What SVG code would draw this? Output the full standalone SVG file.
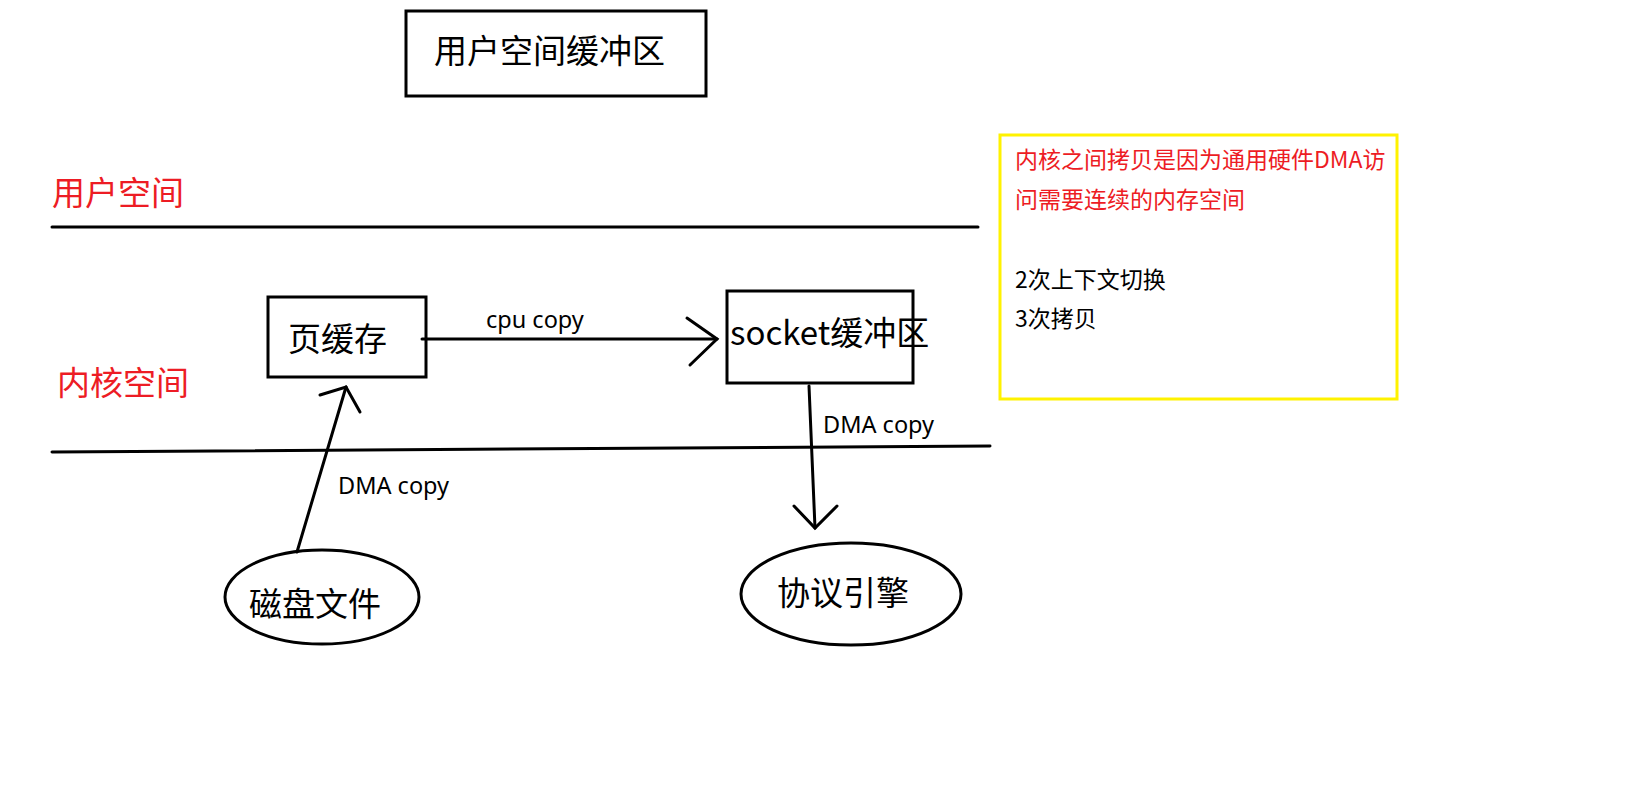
<svg xmlns="http://www.w3.org/2000/svg" width="1645" height="789" viewBox="0 0 1645 789">
<style>
.t{font-family:"Microsoft YaHei","Noto Sans CJK SC","Noto Sans",sans-serif;fill:#000}
.lat{font-family:"Noto Sans","Noto Sans CJK SC",sans-serif;font-size:23.5px;fill:#000}
.big{font-size:33px}
.sm{font-size:23px}
.red{fill:#ed1c24}
.box{fill:#fff;stroke:#000;stroke-width:3}
.ln{fill:none;stroke:#000;stroke-width:3;stroke-linecap:round}
</style>
<rect width="1645" height="789" fill="#fff"/>
<g id="labels">
<text class="t big red" x="52" y="205">用户空间</text>
<text class="t big red" x="57" y="395">内核空间</text>
<line class="ln" x1="52" y1="227" x2="978" y2="227"/>
<line class="ln" x1="52" y1="452" x2="990" y2="446"/>
</g>
<g id="user-buffer">
<rect class="box" x="406" y="11" width="300" height="85"/>
<text class="t big" x="434" y="63">用户空间缓冲区</text>
</g>
<g id="page-cache">
<rect class="box" x="268" y="297" width="158" height="80"/>
<text class="t big" x="288" y="351">页缓存</text>
</g>
<g id="socket-buffer">
<rect class="box" x="727" y="291" width="186" height="92"/>
<text class="t big" x="730" y="345">socket缓冲区</text>
</g>
<g id="disk-file">
<ellipse class="box" cx="322" cy="597" rx="97" ry="47"/>
<text class="t big" x="249" y="616">磁盘文件</text>
</g>
<g id="protocol-engine">
<ellipse class="box" cx="851" cy="594" rx="110" ry="51"/>
<text class="t big" x="777" y="605">协议引擎</text>
</g>
<g id="note">
<rect x="1000" y="135" width="397" height="264" fill="#fff" stroke="#fff200" stroke-width="3"/>
<text class="t sm red" x="1015" y="168">内核之间拷贝是因为通用硬件DMA访</text>
<text class="t sm red" x="1015" y="208">问需要连续的内存空间</text>
<text class="t sm" x="1015" y="288">2次上下文切换</text>
<text class="t sm" x="1015" y="327">3次拷贝</text>
</g>
<g id="connectors">
<line class="ln" x1="422" y1="339" x2="717" y2="339"/>
<polyline class="ln" points="687,318 717,339 690,365"/>
<text class="lat" x="486" y="328">cpu copy</text>
<line class="ln" x1="297" y1="552" x2="346" y2="387"/>
<polyline class="ln" points="320,395 346,387 360,412"/>
<text class="lat" x="338" y="494">DMA copy</text>
<line class="ln" x1="809" y1="386" x2="815" y2="528"/>
<polyline class="ln" points="794,506 815,528 837,506"/>
<text class="lat" x="823" y="433">DMA copy</text>
</g>
</svg>
